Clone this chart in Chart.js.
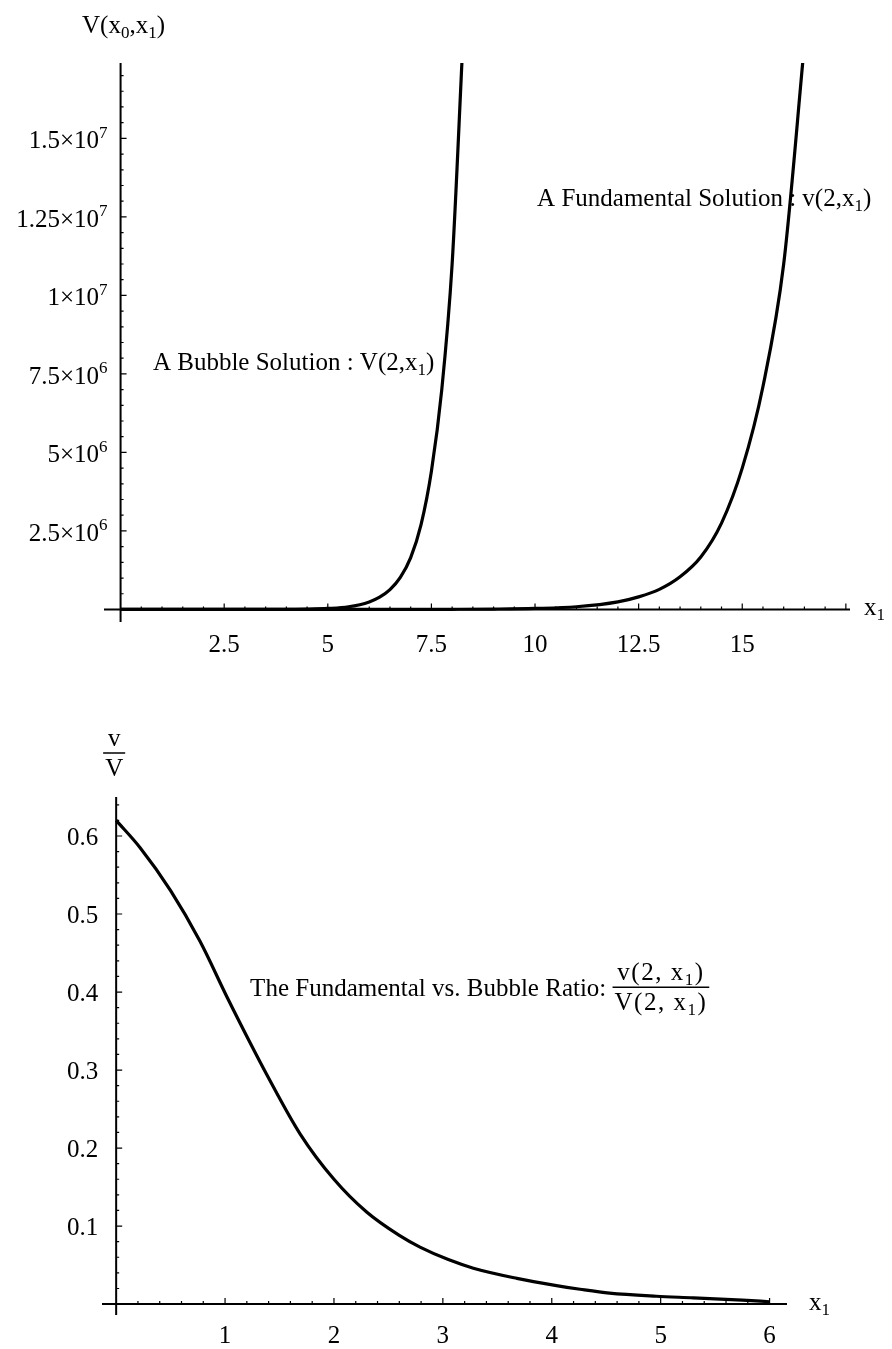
<!DOCTYPE html>
<html>
<head>
<meta charset="utf-8">
<script src="https://cdn.jsdelivr.net/npm/chart.js@4.4.0/dist/chart.umd.min.js"></script>
<style>
  html, body { margin: 0; padding: 0; background: #ffffff; }
  #wrap { position: relative; width: 892px; height: 1349px; background: #fff; }
  canvas { position: absolute; left: 0; }
  #c1 { top: 0; }
  #c2 { top: 680px; }
</style>
</head>
<body>
<div id="wrap">
  <canvas id="c1" width="892" height="680"></canvas>
  <canvas id="c2" width="892" height="669"></canvas>
</div>
<script>
// ---------- DATA ----------
// Top panel: bubble solution V(2, x1)
const bubbleX = [0, 1, 2, 3, 4, 4.5, 5, 5.5, 6, 6.25, 6.5, 6.75, 7, 7.25, 7.5, 7.75, 8, 8.25];
const bubbleV = [0, 0, 0, 0, 5e3, 1.2e4, 3.2e4, 8.5e4, 2.4e5, 3.9e5, 6.3e5, 1.02e6, 1.65e6, 2.7e6, 4.4e6, 7.0e6, 1.1e7, 1.78e7];
// Top panel: fundamental solution v(2, x1)
const fundX = [0, 2, 4, 6, 8, 9, 10, 11, 12, 12.5, 13, 13.5, 14, 14.5, 15, 15.5, 16, 16.5];
const fundV = [0, 0, 0, 0, 5e3, 1.2e4, 3.2e4, 8.5e4, 2.4e5, 4.0e5, 6.4e5, 1.04e6, 1.67e6, 2.75e6, 4.5e6, 7.1e6, 1.1e7, 1.8e7];
// Bottom panel: ratio v/V
const ratioX = [0, 0.22, 0.5, 0.77, 1.02, 1.23, 1.38, 1.69, 2.0, 2.3, 2.6, 2.79, 3.05, 3.28, 3.68, 4.03, 4.26, 4.53, 4.96, 5.3, 5.75, 6.0];
const ratioY = [0.62, 0.585, 0.53, 0.465, 0.393, 0.335, 0.295, 0.218, 0.16, 0.118, 0.088, 0.073, 0.057, 0.046, 0.033, 0.024, 0.019, 0.014, 0.010, 0.008, 0.005, 0.003];

// Tick labels
const topXTicks = [2.5, 5, 7.5, 10, 12.5, 15];
const topXTickLabels = ["2.5", "5", "7.5", "10", "12.5", "15"];
const topYTicks = [2.5e6, 5e6, 7.5e6, 1e7, 1.25e7, 1.5e7];
const topYMantissa = ["2.5", "5", "7.5", "1", "1.25", "1.5"];
const topYExponent = ["6", "6", "6", "7", "7", "7"];
const botXTicks = [1, 2, 3, 4, 5, 6];
const botXTickLabels = ["1", "2", "3", "4", "5", "6"];
const botYTicks = [0.1, 0.2, 0.3, 0.4, 0.5, 0.6];
const botYTickLabels = ["0.1", "0.2", "0.3", "0.4", "0.5", "0.6"];

// ---------- helpers ----------
const SERIF = '"Liberation Serif", "Times New Roman", serif';
function partFont(size, p) { return (p.s ? Math.round(size * 0.66) : size) + 'px ' + SERIF; }
function richWidth(ctx, parts, size) {
  let w = 0;
  for (const p of parts) { ctx.font = partFont(size, p); w += ctx.measureText(p.t).width; }
  return w;
}
function drawRich(ctx, parts, x, baseline, size, align) {
  const w = richWidth(ctx, parts, size);
  let cx = align === 'right' ? x - w : (align === 'center' ? x - w / 2 : x);
  ctx.textBaseline = 'alphabetic';
  ctx.textAlign = 'left';
  for (const p of parts) {
    ctx.font = partFont(size, p);
    let dy = 0;
    if (p.s === 'sub') dy = size * 0.2;
    if (p.s === 'sup') dy = -size * 0.42;
    ctx.fillText(p.t, cx, baseline + dy);
    cx += ctx.measureText(p.t).width;
  }
  return w;
}
function drawFraction(ctx, num, den, cx, barY, size) {
  const wn = richWidth(ctx, num, size), wd = richWidth(ctx, den, size);
  const w = Math.max(wn, wd) + 4;
  ctx.save();
  ctx.strokeStyle = '#000'; ctx.lineWidth = 1.5;
  ctx.beginPath(); ctx.moveTo(cx - w / 2, barY); ctx.lineTo(cx + w / 2, barY); ctx.stroke();
  ctx.restore();
  drawRich(ctx, num, cx, barY - size * 0.28, size, 'center');
  drawRich(ctx, den, cx, barY + size * 0.92, size, 'center');
  return w;
}

function axesPlugin(cfg) {
  return {
    id: 'mmaAxes',
    beforeDatasetsDraw(chart) {
      const { ctx, chartArea: a, scales: { x, y } } = chart;
      const x0 = x.getPixelForValue(0), y0 = y.getPixelForValue(0);
      ctx.save();
      ctx.strokeStyle = '#000';
      ctx.lineWidth = 2;
      ctx.beginPath();
      ctx.moveTo(a.left, y0); ctx.lineTo(a.right, y0);
      ctx.moveTo(x0, a.bottom); ctx.lineTo(x0, a.top);
      ctx.stroke();
      ctx.lineWidth = 1.2;
      ctx.beginPath();
      for (let v = cfg.xMinor; v <= x.max + 1e-9; v += cfg.xMinor) {
        const major = Math.abs(v / cfg.xMajor - Math.round(v / cfg.xMajor)) < 1e-6;
        const px = x.getPixelForValue(v);
        ctx.moveTo(px, y0); ctx.lineTo(px, y0 - (major ? 6 : 3));
      }
      for (let v = cfg.yMinor; v <= y.max * (1 + 1e-9); v += cfg.yMinor) {
        const major = Math.abs(v / cfg.yMajor - Math.round(v / cfg.yMajor)) < 1e-6;
        const py = y.getPixelForValue(v);
        ctx.moveTo(x0, py); ctx.lineTo(x0 + (major ? 6 : 3), py);
      }
      ctx.stroke();
      ctx.restore();
    },
    afterDraw(chart) {
      const { ctx, scales: { x, y } } = chart;
      ctx.save();
      ctx.fillStyle = '#000';
      cfg.labels(ctx, x, y);
      ctx.restore();
    }
  };
}

const common = {
  responsive: false,
  animation: false,
  devicePixelRatio: 1,
  plugins: { legend: { display: false }, tooltip: { enabled: false } },
  elements: { point: { radius: 0 }, line: { borderColor: '#000', borderWidth: 3.2, cubicInterpolationMode: 'monotone' } }
};

// ---------- TOP CHART ----------
new Chart(document.getElementById('c1'), {
  type: 'line',
  data: {
    datasets: [
      { data: bubbleX.map((v, i) => ({ x: v, y: bubbleV[i] })), borderColor: '#000', fill: false },
      { data: fundX.map((v, i) => ({ x: v, y: fundV[i] })), borderColor: '#000', fill: false }
    ]
  },
  options: Object.assign({}, common, {
    layout: { padding: { left: 104, right: 42, top: 63, bottom: 58 } },
    scales: {
      x: { type: 'linear', min: -0.4, max: 17.6, display: false },
      y: { type: 'linear', min: -0.4e6, max: 17.4e6, display: false }
    }
  }),
  plugins: [axesPlugin({
    xMajor: 2.5, xMinor: 0.5, yMajor: 2.5e6, yMinor: 0.5e6,
    labels(ctx, x, y) {
      const x0 = x.getPixelForValue(0), y0 = y.getPixelForValue(0);
      ctx.font = '25px ' + SERIF; ctx.textAlign = 'center'; ctx.textBaseline = 'alphabetic';
      topXTicks.forEach((v, i) => ctx.fillText(topXTickLabels[i], x.getPixelForValue(v), y0 + 43));
      topYTicks.forEach((v, i) => {
        const py = y.getPixelForValue(v) + 10;
        drawRich(ctx, [{ t: topYMantissa[i] + '\u00D710' }, { t: topYExponent[i], s: 'sup' }], x0 - 13, py, 25, 'right');
      });
      drawRich(ctx, [{ t: 'V(x' }, { t: '0', s: 'sub' }, { t: ',x' }, { t: '1', s: 'sub' }, { t: ')' }], 82, 33, 25, 'left');
      drawRich(ctx, [{ t: 'x' }, { t: '1', s: 'sub' }], x.right + 14, y0 + 6, 25, 'left');
      drawRich(ctx, [{ t: 'A Bubble Solution : V(2,x' }, { t: '1', s: 'sub' }, { t: ')' }],
        x.getPixelForValue(0.78), y.getPixelForValue(7.88e6) + 8, 25, 'left');
      drawRich(ctx, [{ t: 'A Fundamental Solution : v(2,x' }, { t: '1', s: 'sub' }, { t: ')' }],
        x.getPixelForValue(10.05), y.getPixelForValue(13.1e6) + 8, 25, 'left');
    }
  })]
});

// ---------- BOTTOM CHART ----------
new Chart(document.getElementById('c2'), {
  type: 'line',
  data: {
    datasets: [
      { data: ratioX.map((v, i) => ({ x: v, y: ratioY[i] })), borderColor: '#000', fill: false }
    ]
  },
  options: Object.assign({}, common, {
    layout: { padding: { left: 102, right: 105, top: 117, bottom: 34 } },
    scales: {
      x: { type: 'linear', min: -0.13, max: 6.16, display: false },
      y: { type: 'linear', min: -0.014, max: 0.65, display: false }
    }
  }),
  plugins: [axesPlugin({
    xMajor: 1, xMinor: 0.2, yMajor: 0.1, yMinor: 0.02,
    labels(ctx, x, y) {
      const x0 = x.getPixelForValue(0), y0 = y.getPixelForValue(0);
      ctx.font = '25px ' + SERIF; ctx.textAlign = 'center'; ctx.textBaseline = 'alphabetic';
      botXTicks.forEach((v, i) => ctx.fillText(botXTickLabels[i], x.getPixelForValue(v), y0 + 39));
      ctx.textAlign = 'right';
      botYTicks.forEach((v, i) => ctx.fillText(botYTickLabels[i], x0 - 18, y.getPixelForValue(v) + 9));
      drawFraction(ctx, [{ t: 'v' }], [{ t: 'V' }], x0 - 2, 73, 25);
      drawRich(ctx, [{ t: 'x' }, { t: '1', s: 'sub' }], x.right + 22, y0 + 6, 25, 'left');
      const ax = x.getPixelForValue(1.23), ay = y.getPixelForValue(0.405);
      const w = drawRich(ctx, [{ t: 'The Fundamental vs. Bubble Ratio: ' }], ax, ay + 8, 25, 'left');
      ctx.save();
      ctx.letterSpacing = '1.5px';
      const num = [{ t: 'v(2, x' }, { t: '1', s: 'sub' }, { t: ')' }];
      const den = [{ t: 'V(2, x' }, { t: '1', s: 'sub' }, { t: ')' }];
      const fw = Math.max(richWidth(ctx, num, 25), richWidth(ctx, den, 25));
      drawFraction(ctx, num, den, ax + w + fw / 2 + 2, ay - 1, 25);
      ctx.restore();
    }
  })]
});
</script>
</body>
</html>
